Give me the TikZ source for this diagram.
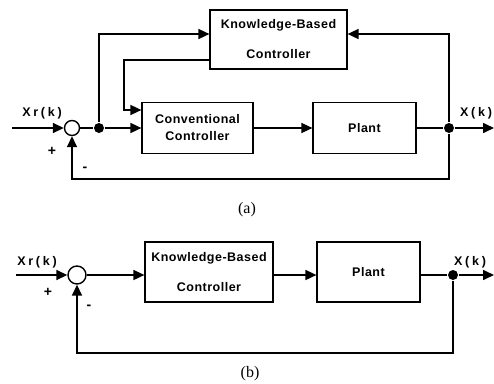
\documentclass[tikz,border=0pt]{standalone}
\usepackage{fontspec}
\setmainfont{Liberation Sans}[LetterSpace=4]
\newfontfamily\capfont{Liberation Serif}
\newfontfamily\sigfont{Liberation Sans}[LetterSpace=22]
\usetikzlibrary{arrows.meta, positioning}

\begin{document}
\begin{tikzpicture}[
    x=1pt, y=-1pt,
    line width=1.6pt,
    block/.style={draw, line width=1.2pt, align=center, inner sep=0pt, font=\bfseries\fontsize{12.5}{17}\selectfont},
    sumnode/.style={draw, circle, line width=1.4pt, inner sep=0pt},
    dot/.style={fill, circle, inner sep=0pt, minimum size=10pt},
    arrow/.style={-{Triangle[length=11pt, width=10pt]}},
    sig/.style={font=\sigfont\bfseries\fontsize{12.5}{14}\selectfont},
    sgn/.style={font=\bfseries\fontsize{14}{14}\selectfont},
    caption/.style={font=\capfont\fontsize{16}{16}\selectfont}
]
\useasboundingbox (0,0) rectangle (494,383);

% (a) with conventional controller tuned by the knowledge-based one
\coordinate (inA) at (12,128);
\node[sumnode, minimum size=15pt] (sumA) at (72,128) {};
\node[dot] (splitA) at (99,128) {};
\node[block, minimum width=137, minimum height=59] (kbA) at (278.5,39.5) {Knowledge-Based\\[13pt]Controller};
\node[block, minimum width=111, minimum height=51] (convA) at (197.5,128) {Conventional\\Controller};
\node[block, minimum width=103, minimum height=51] (plantA) at (364.5,128) {Plant};
\node[dot] (outA) at (449,128) {};
\coordinate (endA) at (494,128);
\coordinate (kinkA) at (124,110);

\node[sig] (xrA) at (42,113) {Xr(k)};
\node[sig] (xA) at (476,113) {X(k)};
\node[sgn] (plusA) at (52,151) {+};
\node[sgn] (minusA) at (85,169) {-};
\node[caption] (capA) at (247,210) {(a)};

\draw[arrow] (inA) -- (sumA);
\draw (sumA) -- (splitA);
\draw[arrow] (splitA) -- (convA);
\draw[arrow] (splitA) |- ([yshift=5.5pt]kbA.west);
\draw[arrow] ([yshift=-20.5pt]kbA.west) -| (kinkA) -- (kinkA -| convA.west);
\draw[arrow] (convA) -- (plantA);
\draw (plantA) -- (outA);
\draw[arrow] (outA) -- (endA);
\draw[arrow] (outA) |- ([yshift=5.5pt]kbA.east);
\draw[arrow] (outA) -- ++(0,51) -| (sumA.south);

% (b) knowledge-based controller alone
\coordinate (inB) at (16,275);
\node[sumnode, minimum size=18pt] (sumB) at (77,275) {};
\node[block, minimum width=128, minimum height=60] (kbB) at (209,272) {Knowledge-Based\\[13pt]Controller};
\node[block, minimum width=103, minimum height=60] (plantB) at (368.5,272) {Plant};
\node[dot] (outB) at (453,275) {};
\coordinate (endB) at (494,275);

\node[sig] (xrB) at (37,262) {Xr(k)};
\node[sig] (xB) at (470,262) {X(k)};
\node[sgn] (plusB) at (48,292) {+};
\node[sgn] (minusB) at (89,307) {-};
\node[caption] (capB) at (250,374) {(b)};

\draw[arrow] (inB) -- (sumB);
\draw[arrow] (sumB) -- (sumB -| kbB.west);
\draw[arrow] (kbB.east |- sumB) -- (plantB.west |- sumB);
\draw (plantB.east |- outB) -- (outB);
\draw[arrow] (outB) -- (endB);
\draw[arrow] (outB) -- ++(0,78) -| (sumB.south);
\end{tikzpicture}
\end{document}
